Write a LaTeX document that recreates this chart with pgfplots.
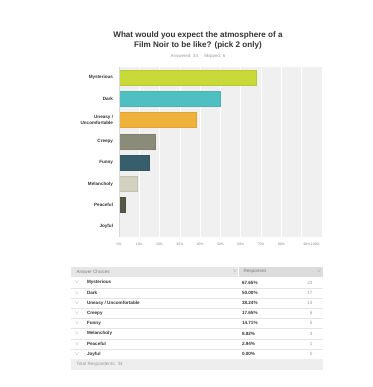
\documentclass[border=0pt]{standalone}
\usepackage{pgfplots}
\pgfplotsset{compat=1.18}
\usepackage{fontspec}
\setmainfont{Liberation Sans}
\definecolor{cA}{HTML}{C8DA3A}
\definecolor{cB}{HTML}{4FC0C1}
\definecolor{cC}{HTML}{F0B13A}
\definecolor{cD}{HTML}{8A8B78}
\definecolor{cE}{HTML}{375F6B}
\definecolor{cF}{HTML}{D2D1C2}
\definecolor{cG}{HTML}{555845}
\definecolor{cH}{HTML}{B0B0B0}
\definecolor{bggray}{HTML}{F0F0F0}
\definecolor{txt}{HTML}{333333}
\definecolor{lgt}{HTML}{9A9A9A}
\definecolor{tck}{HTML}{858585}
\definecolor{hdr}{HTML}{E6E6E6}
\definecolor{hdrb}{HTML}{DCDCDC}
\definecolor{rowline}{HTML}{E4E4E4}
\definecolor{tot}{HTML}{EEEEEE}
\begin{document}
\begin{tikzpicture}
\useasboundingbox (0,0) rectangle (373bp,-387bp);
\fill[white] (0,0) rectangle (373bp,-387bp);
% title
\node[font=\fontsize{8.1bp}{10bp}\selectfont\bfseries, text=txt, align=center, anchor=north] at (198bp,-28bp)
  {What would you expect the atmosphere of a\\Film Noir to be like? (pick 2 only)};
\node[font=\fontsize{4.4bp}{5bp}\selectfont, text=lgt, anchor=center] at (198bp,-56bp)
  {Answered: 34\hspace{6bp}Skipped: 6};
\begin{axis}[
  at={(119bp,-67bp)}, anchor=north west,
  scale only axis, width=203bp, height=170bp,
  xbar, bar width=15bp, bar shift=0pt,
  xmin=0, xmax=100, ymin=-0.5, ymax=7.5, y dir=reverse,
  ytick={0,...,7},
  yticklabels={Mysterious,Dark,{Uneasy /\\Uncomfortable},Creepy,Funny,Melancholy,Peaceful,Joyful},
  yticklabel style={align=right, font=\fontsize{4.6bp}{5.8bp}\selectfont\bfseries, text=txt, inner sep=1bp, xshift=-0.5bp},
  xtick={0,10,...,100},
  xticklabels={0\%,10\%,20\%,30\%,40\%,50\%,60\%,70\%,80\%,{},{}},
  xticklabel style={font=\fontsize{3.4bp}{4bp}\selectfont, text=tck, yshift=-2.5bp},
  xmajorgrids, major grid style={draw=white, line width=0.7bp},
  axis background/.style={fill=bggray},
  axis line style={draw=none},
  tick style={draw=none},
  /pgf/number format/assume math mode=true,
  clip=false,
]
\addplot[fill=cA, draw=cA!92!black, line width=0.3bp] coordinates {(67.65,0)};
\addplot[fill=cB, draw=cB!92!black, line width=0.3bp] coordinates {(50.00,1)};
\addplot[fill=cC, draw=cC!92!black, line width=0.3bp] coordinates {(38.24,2)};
\addplot[fill=cD, draw=cD!92!black, line width=0.3bp] coordinates {(17.65,3)};
\addplot[fill=cE, draw=cE!92!black, line width=0.3bp] coordinates {(14.71,4)};
\addplot[fill=cF, draw=cF!92!black, line width=0.3bp] coordinates {(8.82,5)};
\addplot[fill=cG, draw=cG!92!black, line width=0.3bp] coordinates {(2.94,6)};
\addplot[fill=cH, draw=none] coordinates {(0,7)};
\draw[draw=black!15, line width=0.4bp] (axis cs:0,-0.5) -- (axis cs:0,7.5);
\node[font=\fontsize{3.4bp}{4bp}\selectfont, text=tck, anchor=north, yshift=-2.5bp] at (axis cs:92.6,7.5) {90\%};
\node[font=\fontsize{3.4bp}{4bp}\selectfont, text=tck, anchor=north east, yshift=-2.5bp, xshift=1.2bp] at (axis cs:100,7.5) {100\%};
\end{axis}
% table
\fill[hdr] (71bp,-267bp) rectangle (238bp,-276.5bp);
\fill[hdrb] (239bp,-267bp) rectangle (323bp,-276.5bp);
\node[font=\fontsize{4.6bp}{5bp}\selectfont, text=lgt!80!black, anchor=west] at (73bp,-271.8bp) {Answer Choices};
\node[font=\fontsize{4.6bp}{5bp}\selectfont, text=lgt!80!black, anchor=west] at (240bp,-271.8bp) {Responses};
\node[font=\fontsize{4bp}{5bp}\selectfont, text=lgt] at (235bp,-271.5bp) {$\vee$};
\node[font=\fontsize{4bp}{5bp}\selectfont, text=lgt] at (319bp,-271.5bp) {$\vee$};
\foreach \i/\lab/\pct/\n in {0/Mysterious/67.65\%/23,1/Dark/50.00\%/17,2/{Uneasy / Uncomfortable}/38.24\%/13,3/Creepy/17.65\%/6,4/Funny/14.71\%/5,5/Melancholy/8.82\%/3,6/Peaceful/2.94\%/1,7/Joyful/0.00\%/0}{
  \pgfmathsetmacro{\yc}{-(282.6+10.2*\i)}
  \pgfmathsetmacro{\yl}{-(287.7+10.2*\i)}
  \node[font=\fontsize{3.8bp}{5bp}\selectfont, text=lgt] at (77bp,\yc bp) {$\vee$};
  \node[font=\fontsize{4.6bp}{5bp}\selectfont\bfseries, text=txt, anchor=west] at (83.5bp,\yc bp) {\lab};
  \node[font=\fontsize{4.6bp}{5bp}\selectfont\bfseries, text=txt, anchor=west] at (238.5bp,\yc bp) {\pct};
  \node[font=\fontsize{4.6bp}{5bp}\selectfont, text=lgt, anchor=east] at (316bp,\yc bp) {\n};
  \draw[rowline, line width=0.4bp] (71bp,\yl bp) -- (323bp,\yl bp);
}
\fill[tot] (71bp,-359bp) rectangle (323bp,-370bp);
\node[font=\fontsize{4.6bp}{5bp}\selectfont, text=lgt, anchor=west] at (73bp,-364.5bp) {Total Respondents: 34};
\end{tikzpicture}
\end{document}
